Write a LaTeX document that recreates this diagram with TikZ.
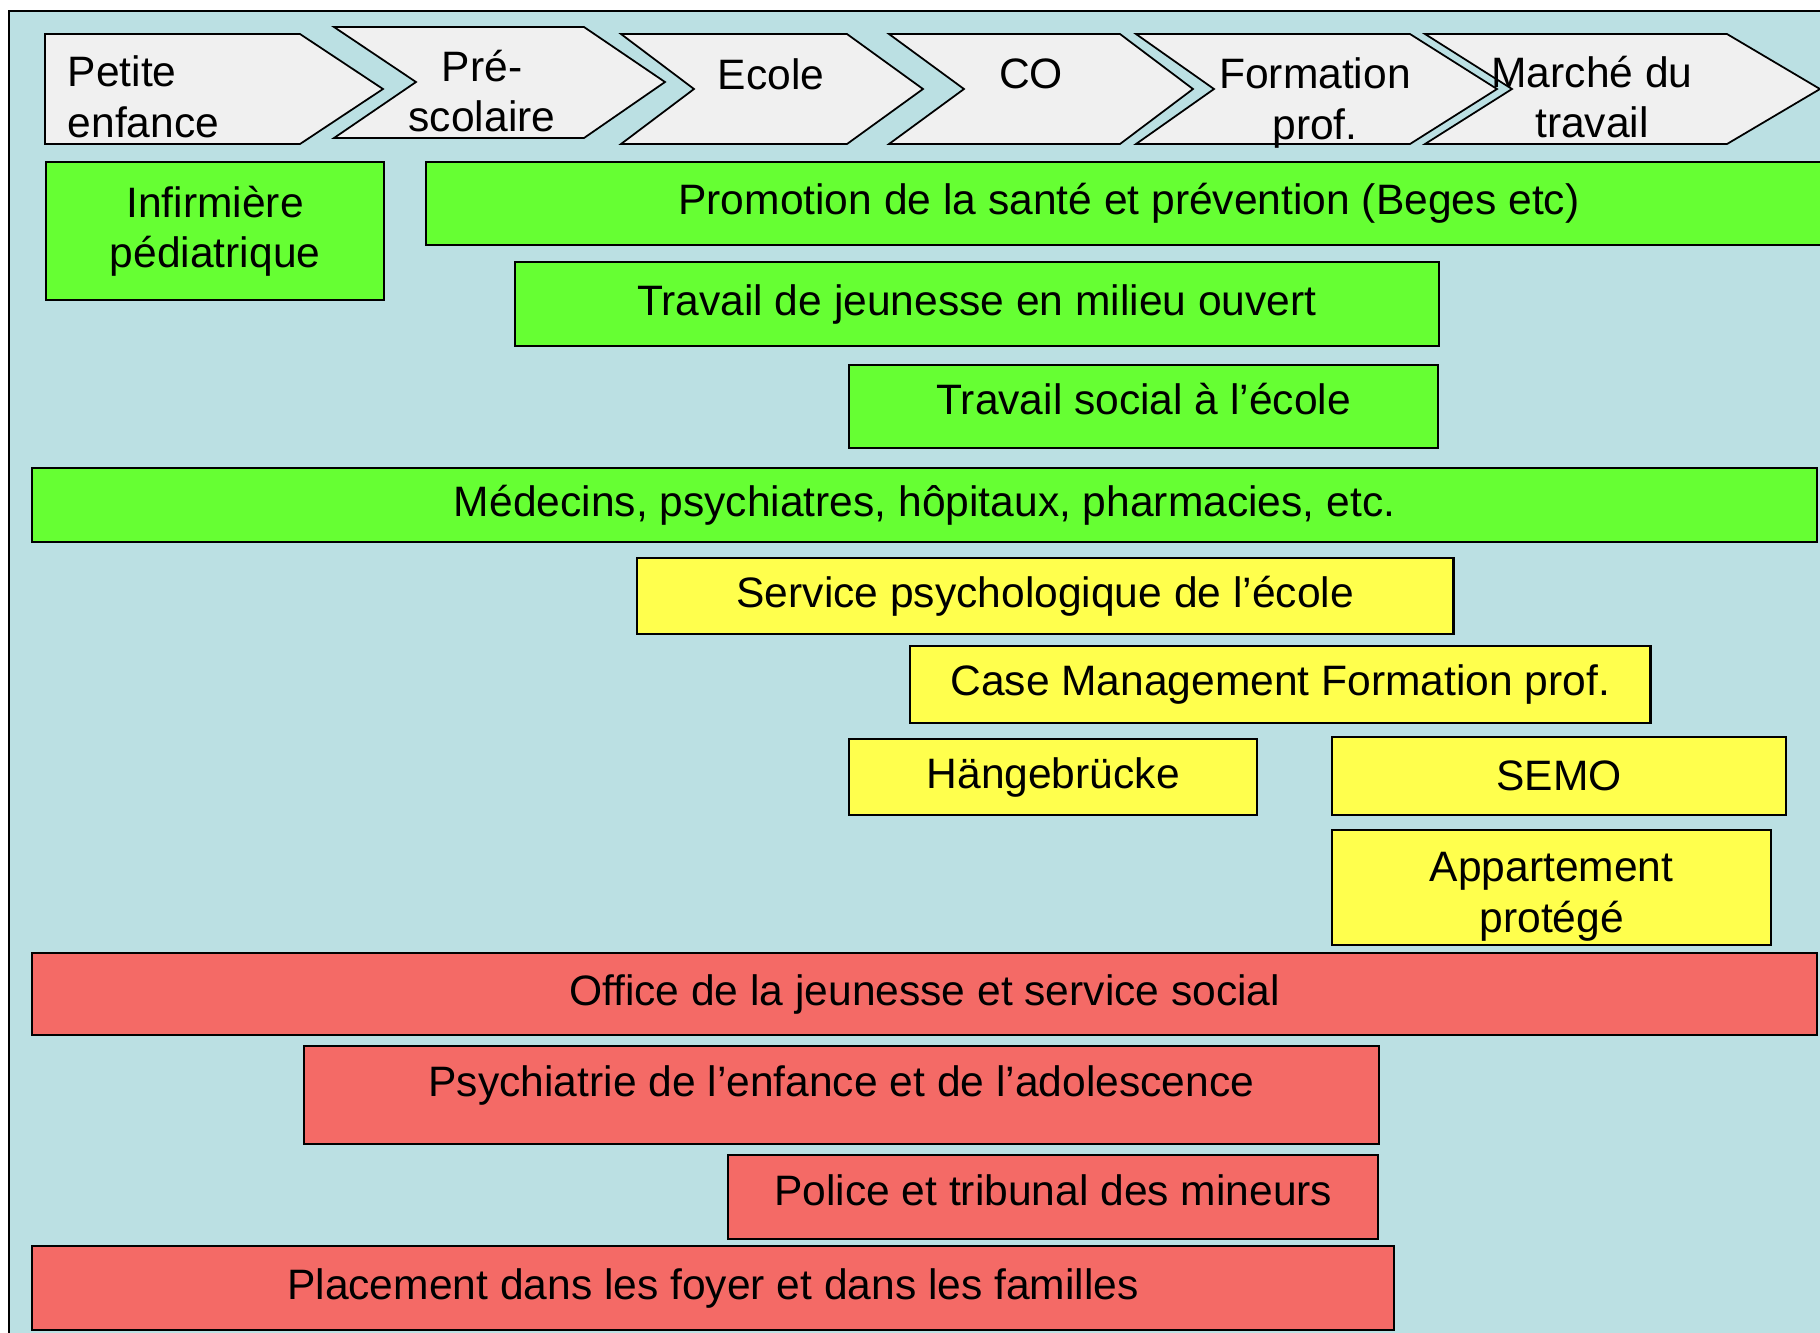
\documentclass[tikz,border=0pt]{standalone}
\usepackage{fontspec}
\setmainfont{Liberation Sans}
\definecolor{bgblue}{HTML}{BBE0E3}
\definecolor{phasegray}{HTML}{F0F0F0}
\definecolor{boxgreen}{HTML}{66FF33}
\definecolor{boxyellow}{HTML}{FFFF4D}
\definecolor{boxred}{HTML}{F46A66}
\begin{document}
\begin{tikzpicture}[
  x=0.01cm, y=-0.01cm,
  every node/.style={font=\fontsize{12.1}{14.4}\selectfont},
  phase/.style={draw, fill=phasegray, line width=0.5pt},
  phaselabel/.style={align=center, inner sep=0pt},
  box/.style={draw, anchor=north west, inner sep=0pt, align=center, line width=0.6pt},
  greenbox/.style={box, fill=boxgreen},
  yellowbox/.style={box, fill=boxyellow},
  redbox/.style={box, fill=boxred}
]
\useasboundingbox (0,0) rectangle (1820,1332);
\clip (0,0) rectangle (1820,1332);
\draw[fill=bgblue, line width=0.7pt] (9,11) rectangle (1850,1360);

% phases
\draw[phase] (45,34) -- (300,34) -- (383,89) -- (300,144) -- (45,144) -- cycle;
\draw[phase] (334,27) -- (584,27) -- (665,82) -- (584,138) -- (334,138) -- (416,82) -- cycle;
\draw[phase] (621,34) -- (847,34) -- (923,89) -- (847,144) -- (621,144) -- (694,89) -- cycle;
\draw[phase] (889,34) -- (1120,34) -- (1193,89) -- (1120,144) -- (889,144) -- (964,89) -- cycle;
\draw[phase] (1136,34) -- (1410,34) -- (1497,89) -- (1410,144) -- (1136,144) -- (1214,89) -- cycle;
\draw[phase] (1425,34) -- (1727,34) -- (1820,89) -- (1727,144) -- (1425,144) -- (1512,89) -- cycle;

\node[phaselabel, anchor=west, align=left] (petite) at (67,97) {Petite\\enfance};
\node[phaselabel] (presco) at (482,91) {Pré-\\scolaire};
\node[phaselabel] (ecole) at (771,74) {Ecole};
\node[phaselabel] (co) at (1031,74) {CO};
\node[phaselabel] (formation) at (1315,103) {Formation\\prof.};
\node[phaselabel] (marche) at (1592,97) {Marché du\\travail};

% offres
\node[greenbox, minimum width=3.38cm, minimum height=1.38cm] (infirm) at (45,161) {Infirmière\\pédiatrique};
\node[greenbox, minimum width=14.05cm, minimum height=0.83cm] (promo) at (425,161) {Promotion de la santé et prévention (Beges etc)};
\node[greenbox, minimum width=9.23cm, minimum height=0.84cm] (jeunesse) at (514,261) {Travail de jeunesse en milieu ouvert};
\node[greenbox, minimum width=5.89cm, minimum height=0.83cm, text depth=0.16cm] (social) at (848,364) {Travail social à l’école};
\node[greenbox, minimum width=17.84cm, minimum height=0.74cm] (medecins) at (31,467) {Médecins, psychiatres, hôpitaux, pharmacies, etc.};
\node[yellowbox, minimum width=8.16cm, minimum height=0.76cm] (psyecole) at (636,557) {Service psychologique de l’école};
\node[yellowbox, minimum width=7.40cm, minimum height=0.77cm] (casemgmt) at (909,645) {Case Management Formation prof.};
\node[yellowbox, minimum width=4.08cm, minimum height=0.76cm] (haenge) at (848,738) {Hängebrücke};
\node[yellowbox, minimum width=4.54cm, minimum height=0.78cm] (semo) at (1331,736) {SEMO};
\node[yellowbox, minimum width=4.39cm, minimum height=1.15cm] (appart) at (1331,829) {\rule{0pt}{0.47cm}Appartement\\protégé};
\node[redbox, minimum width=17.84cm, minimum height=0.82cm] (office) at (31,952) {Office de la jeunesse et service social};
\node[redbox, minimum width=10.74cm, minimum height=0.98cm, text depth=0.28cm] (psychiatrie) at (303,1045) {Psychiatrie de l’enfance et de l’adolescence};
\node[redbox, minimum width=6.50cm, minimum height=0.84cm, text depth=0.14cm] (police) at (727,1154) {Police et tribunal des mineurs};
\node[redbox, minimum width=13.61cm, minimum height=0.84cm] (placement) at (31,1245) {Placement dans les foyer et dans les familles};
\end{tikzpicture}
\end{document}
